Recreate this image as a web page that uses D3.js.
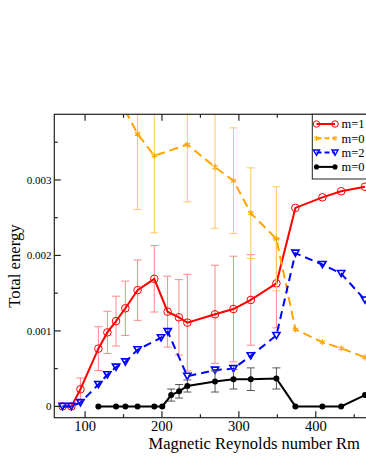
<!DOCTYPE html>
<html>
<head>
<meta charset="utf-8">
<script src="https://cdn.jsdelivr.net/npm/d3@7"></script>
<style>
  body { margin: 0; background: #fff; overflow: hidden; }
  svg { display: block; font-family: "Liberation Serif", "DejaVu Serif", serif; }
</style>
</head>
<body>
<svg id="chart"></svg>
<script>
// Rm values and total energy per mode
var rmRed = [70.7, 82.2, 94, 117.3, 129, 140.3, 152.4, 168.3, 190, 207.3, 222, 233, 269, 293, 315.5, 348.8, 373.5, 408.6, 433, 464];
var eRed = [0, 0, 0.000227, 0.000765, 0.00098, 0.00113, 0.0013, 0.00154, 0.00169, 0.001255, 0.00118, 0.00111, 0.00122, 0.00129, 0.00141, 0.00163, 0.00263, 0.00277, 0.00285, 0.00291];
var errRed = [0, 0, 0.00015, 0.00029, 0.00028, 0.00033, 0.00036, 0.0004, 0.00044, 0.00047, 0.0005, 0.00064, 0.00065, 0.0007, 0.0006, 0.00059, 0, 0, 0, 0];

var rmOrange = [152.4, 168.3, 190, 233, 269, 293, 315.5, 348.8, 373.5, 408.6, 433, 464];
var eOrange = [0.00392, 0.00361, 0.00332, 0.00347, 0.00317, 0.00299, 0.00256, 0.00222, 0.00102, 0.00085, 0.00077, 0.00065];
var errOrange = [0, 0.001, 0.00102, 0.00076, 0.00081, 0.0007, 0.0006, 0.00069, 0, 0, 0, 0];

var rmBlue = [70.7, 82.2, 94, 117.3, 129, 140.3, 152.4, 168.3, 198.8, 207.5, 233, 269, 293, 315.5, 348.8, 373.5, 408.6, 433, 464];
var eBlue = [0, 0, 0.00005, 0.00029, 0.00042, 0.00052, 0.00059, 0.00075, 0.00091, 0.00099, 0.0004, 0.00048, 0.0005, 0.00067, 0.00094, 0.00203, 0.00188, 0.00176, 0.00141];

var rmBlack = [117.3, 140.3, 152.4, 168.3, 190, 200.4, 212, 222.3, 233, 269, 293, 315.5, 348.8, 373.5, 408.6, 433, 464];
var eBlack = [0, 0, 0, 0, 0, 0, 0.00015, 0.0002, 0.00027, 0.00033, 0.00036, 0.00036, 0.00037, 0, 0, 0, 0.00015];
var errBlack = [0, 0, 0, 0, 0, 0, 0.00008, 0.00009, 0.00008, 0.00014, 0.00013, 0.00015, 0.00014, 0, 0, 0, 0];

var legendLabels = ["m=1", "m=0", "m=2", "m=0"];
var yTicks = [0, 0.001, 0.002, 0.003];
var yMinor = [0.0005, 0.0015, 0.0025, 0.0035];
var xTicks = [100, 200, 300, 400];
var xMinor = [150, 250, 350, 450];

var width = 366, height = 473;
var pLeft = 54.3, pTop = 114.3, pRight = 454.2, pBottom = 417.7;

var svg = d3.select("#chart").attr("width", width).attr("height", height);

var x = d3.scaleLinear().domain([60, 580]).range([pLeft, pRight]);
var y = d3.scaleLinear().domain([-0.00015, 0.00387]).range([pBottom, pTop]);

svg.append("clipPath").attr("id", "clip")
    .append("rect")
    .attr("x", pLeft).attr("y", pTop)
    .attr("width", pRight - pLeft).attr("height", pBottom - pTop);

function zip(xs, ys, es) {
    return xs.map(function (v, i) {
        return { x: v, y: ys[i], e: es ? es[i] : 0 };
    });
}

var series = [
    { data: zip(rmRed, eRed, errRed), color: "#ff0000", bar: "#ff8a8a", dash: null, marker: "circle" },
    { data: zip(rmOrange, eOrange, errOrange), color: "#ffa500", bar: "#ffc860", dash: "9,5", marker: "star" },
    { data: zip(rmBlue, eBlue), color: "#0000ff", bar: "#8080ff", dash: "8,5", marker: "tri" },
    { data: zip(rmBlack, eBlack, errBlack), color: "#000000", bar: "#555555", dash: null, marker: "dot" }
];

var line = d3.line().x(function (d) { return x(d.x); }).y(function (d) { return y(d.y); });
var triPath = "M-3.6,-3L3.6,-3L0,3.2Z";
var starPath = d3.symbol().type(d3.symbolAsterisk).size(26)();

function drawMarker(g, m, color, k) {
    k = k || 1;
    if (m == "circle") {
        g.append("circle").attr("r", 3.8 * k).attr("fill", "none").attr("stroke", color).attr("stroke-width", 1);
    } else if (m == "star") {
        g.append("path").attr("d", starPath).attr("transform", "scale(" + k + ")")
            .attr("fill", "none").attr("stroke", color).attr("stroke-width", 1.2);
    } else if (m == "tri") {
        g.append("path").attr("d", triPath).attr("transform", "scale(" + k + ")")
            .attr("fill", "none").attr("stroke", color).attr("stroke-width", 1.6);
    } else {
        g.append("circle").attr("r", 3 * k).attr("fill", color);
    }
}

var plot = svg.append("g").attr("clip-path", "url(#clip)");

series.forEach(function (s) {
    var g = plot.append("g");
    var bars = s.data.filter(function (d) { return d.e > 0; });

    var eb = g.append("g").attr("stroke", s.bar).attr("stroke-width", 1);
    bars.forEach(function (d) {
        var cx = x(d.x), y1 = y(d.y + d.e), y2 = y(d.y - d.e);
        eb.append("line").attr("x1", cx).attr("x2", cx).attr("y1", y1).attr("y2", y2);
        eb.append("line").attr("x1", cx - 4).attr("x2", cx + 4).attr("y1", y1).attr("y2", y1);
        eb.append("line").attr("x1", cx - 4).attr("x2", cx + 4).attr("y1", y2).attr("y2", y2);
    });

    g.append("path")
        .datum(s.data)
        .attr("d", line)
        .attr("fill", "none")
        .attr("stroke", s.color)
        .attr("stroke-width", 2)
        .attr("stroke-dasharray", s.dash);

    s.data.forEach(function (d) {
        var mg = g.append("g").attr("transform", "translate(" + x(d.x) + "," + y(d.y) + ")");
        drawMarker(mg, s.marker, s.color);
    });
});

// frame
var frame = svg.append("g").attr("stroke", "#222").attr("stroke-width", 1.2);
frame.append("rect")
    .attr("x", pLeft).attr("y", pTop)
    .attr("width", pRight - pLeft).attr("height", pBottom - pTop)
    .attr("fill", "none");

// ticks, all pointing inward
xTicks.forEach(function (t) {
    frame.append("line").attr("x1", x(t)).attr("x2", x(t)).attr("y1", pBottom).attr("y2", pBottom - 6.5);
    frame.append("line").attr("x1", x(t)).attr("x2", x(t)).attr("y1", pTop).attr("y2", pTop + 6.5);
});
xMinor.forEach(function (t) {
    frame.append("line").attr("x1", x(t)).attr("x2", x(t)).attr("y1", pBottom).attr("y2", pBottom - 3.5);
    frame.append("line").attr("x1", x(t)).attr("x2", x(t)).attr("y1", pTop).attr("y2", pTop + 3.5);
});
yTicks.forEach(function (t) {
    frame.append("line").attr("x1", pLeft).attr("x2", pLeft + 6.5).attr("y1", y(t)).attr("y2", y(t));
});
yMinor.forEach(function (t) {
    frame.append("line").attr("x1", pLeft).attr("x2", pLeft + 3.5).attr("y1", y(t)).attr("y2", y(t));
});

svg.append("g").selectAll("text")
    .data(xTicks).enter().append("text")
    .attr("x", function (d) { return x(d); })
    .attr("y", 430.5)
    .attr("text-anchor", "middle")
    .style("font-size", "14.5px")
    .text(function (d) { return d; });

svg.append("g").selectAll("text")
    .data(yTicks).enter().append("text")
    .attr("x", 51.5)
    .attr("y", function (d) { return y(d); })
    .attr("dy", "0.35em")
    .attr("text-anchor", "end")
    .style("font-size", "11px")
    .text(function (d) { return d === 0 ? "0" : d3.format(".3f")(d); });

svg.append("text")
    .attr("x", (pLeft + pRight) / 2)
    .attr("y", 448.5)
    .attr("text-anchor", "middle")
    .style("font-size", "16.5px")
    .text("Magnetic Reynolds number Rm");

svg.append("text")
    .attr("transform", "translate(20," + ((pTop + pBottom) / 2) + ") rotate(-90)")
    .attr("text-anchor", "middle")
    .style("font-size", "16.7px")
    .text("Total energy");

// legend
var lg = svg.append("g");
lg.append("rect")
    .attr("x", 312.3).attr("y", pTop)
    .attr("width", 90).attr("height", 179 - pTop)
    .attr("fill", "#fff").attr("stroke", "#222").attr("stroke-width", 1);

legendLabels.forEach(function (lab, i) {
    var s = series[i];
    var ly = 124 + i * 14.3;
    lg.append("line")
        .attr("x1", 316.5).attr("x2", 335)
        .attr("y1", ly).attr("y2", ly)
        .attr("stroke", s.color).attr("stroke-width", 2)
        .attr("stroke-dasharray", s.dash ? "5,3" : null);
    [316.5, 335].forEach(function (px) {
        var mg = lg.append("g").attr("transform", "translate(" + px + "," + ly + ")");
        drawMarker(mg, s.marker, s.color, 0.85);
    });
    lg.append("text")
        .attr("x", 341.5).attr("y", ly)
        .attr("dy", "0.35em")
        .style("font-size", "12.5px")
        .text(lab);
});
</script>
</body>
</html>
